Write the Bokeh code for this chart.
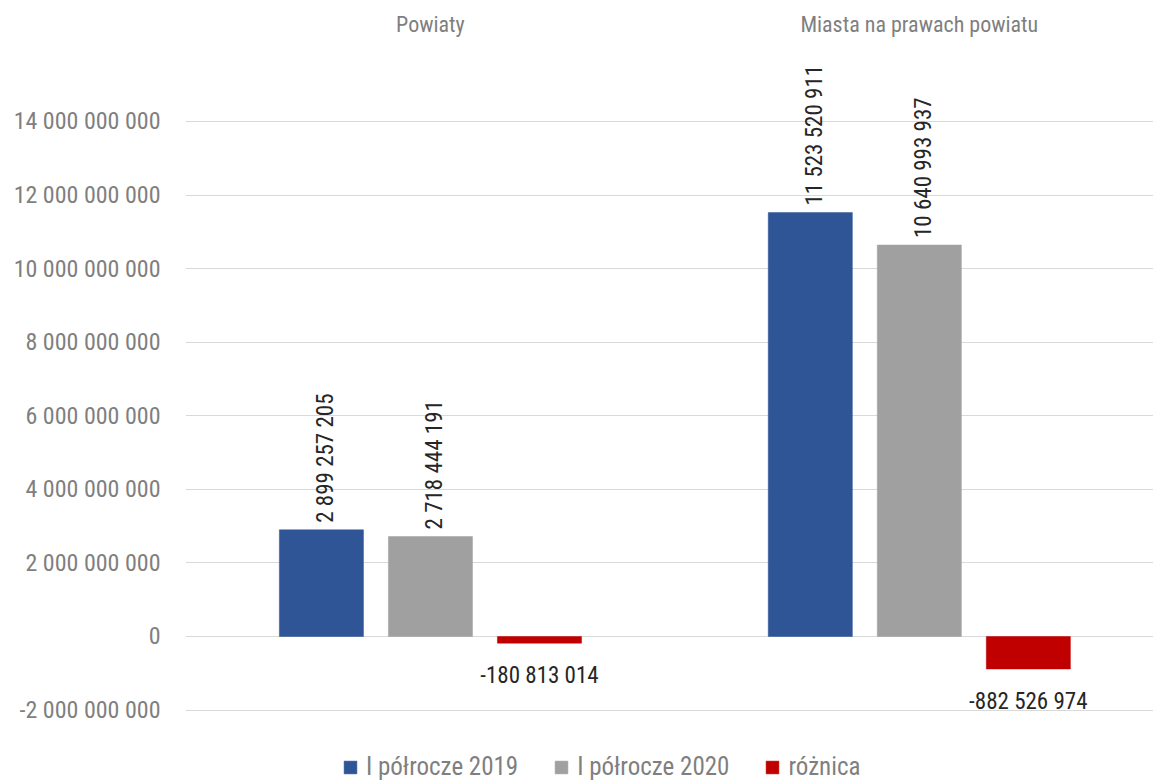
import math
from bokeh.plotting import figure
from bokeh.models import (Range1d, FixedTicker, CustomJSTickFormatter, Legend,
                          LegendItem, ColumnDataSource)
from bokeh.core.properties import value
from bokeh.embed import file_html
from bokeh.resources import INLINE

# ---- data ----
categories = ["Powiaty", "Miasta na prawach powiatu"]
series_names = ["I półrocze 2019", "I półrocze 2020", "różnica"]
values_2019 = [2899257205, 11523520911]
values_2020 = [2718444191, 10640993937]
values_diff = [-180813014, -882526974]
y_ticks = [-2000000000, 0, 2000000000, 4000000000, 6000000000, 8000000000,
           10000000000, 12000000000, 14000000000]

# ---- style ----
FONT = "'Roboto Condensed', 'DejaVu Sans Condensed', sans-serif"
colors = ["#2F5597", "#A0A0A0", "#C00000"]
offsets = [-0.223, 0.0, 0.223]
bar_width = 0.172
axis_color = "#7F7F7F"
label_color = "#262626"

p = figure(width=1153, height=781,
           x_range=Range1d(-0.501, 1.479),
           y_range=Range1d(-3.942e9, 15.93e9),
           x_axis_location="above", y_axis_location="left",
           output_backend="svg", toolbar_location=None,
           min_border_left=185, min_border_right=0,
           min_border_top=50, min_border_bottom=0)
p.outline_line_color = None
p.background_fill_color = "white"
p.border_fill_color = "white"

all_series = [values_2019, values_2020, values_diff]
renderers = []
pos = dict(x=[], y=[], t=[])
neg = dict(x=[], y=[], t=[])
for s, vals in enumerate(all_series):
    xs = [i + offsets[s] for i in range(len(categories))]
    src = ColumnDataSource(dict(x=xs, top=vals))
    r = p.vbar(x="x", top="top", bottom=0, width=bar_width, source=src,
               fill_color=colors[s], line_color=colors[s], line_width=0.5)
    renderers.append(r)
    for x, v in zip(xs, vals):
        lbl = f"{v:,}".replace(",", " ")
        d = pos if v >= 0 else neg
        d["x"].append(x)
        d["y"].append(v)
        d["t"].append(lbl)

p.text(x="x", y="y", text="t", source=ColumnDataSource(pos),
       angle=math.pi / 2, text_align="left", text_baseline="middle",
       y_offset=-7, x_offset=4, text_font=value(FONT), text_font_size="23px",
       text_color=label_color)
p.text(x="x", y="y", text="t", source=ColumnDataSource(neg),
       text_align="center", text_baseline="top", y_offset=19,
       text_font=value(FONT), text_font_size="23px", text_color=label_color)

# y axis
yax = p.yaxis[0]
yax.ticker = FixedTicker(ticks=y_ticks)
yax.formatter = CustomJSTickFormatter(
    code=r"return tick.toFixed(0).replace(/\B(?=(\d{3})+(?!\d))/g, ' ');")
yax.axis_line_color = None
yax.major_tick_line_color = None
yax.minor_tick_line_color = None
yax.major_label_standoff = 19
yax.major_label_text_font = FONT
yax.major_label_text_font_size = "24px"
yax.major_label_text_color = axis_color

# x axis (categories, on top)
xax = p.xaxis[0]
xax.ticker = FixedTicker(ticks=list(range(len(categories))))
xax.formatter = CustomJSTickFormatter(args=dict(labels=categories),
                                      code="return labels[Math.round(tick)];")
xax.axis_line_color = None
xax.major_tick_line_color = None
xax.minor_tick_line_color = None
xax.major_label_standoff = 8
xax.major_label_text_font = FONT
xax.major_label_text_font_size = "22px"
xax.major_label_text_color = axis_color

p.xgrid.visible = False
p.ygrid.ticker = FixedTicker(ticks=y_ticks)
p.ygrid.grid_line_color = "#D9D9D9"
p.ygrid.grid_line_width = 1.2

legend = Legend(items=[LegendItem(label=n, renderers=[r])
                       for n, r in zip(series_names, renderers)],
                orientation="horizontal", location=(157, 0),
                glyph_width=16, glyph_height=16, label_standoff=8,
                spacing=35, padding=0, margin=0,
                border_line_color=None, background_fill_alpha=0,
                label_text_font=FONT, label_text_font_size="25px",
                label_text_color=axis_color)
p.add_layout(legend)

open("out.html", "w").write(file_html(p, INLINE))
